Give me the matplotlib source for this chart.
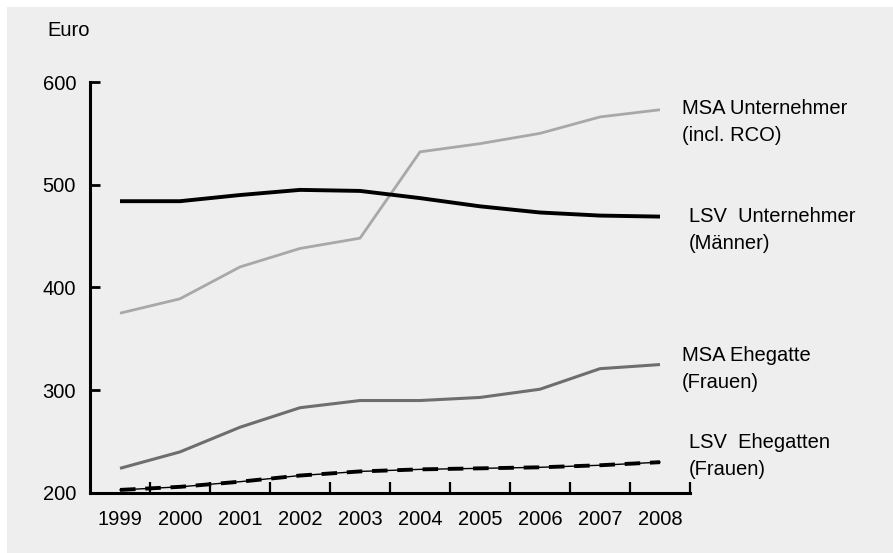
import matplotlib.pyplot as plt
from matplotlib.patches import Rectangle

plt.rcParams['font.family'] = ['Liberation Sans', 'DejaVu Sans']

years = [1999, 2000, 2001, 2002, 2003, 2004, 2005, 2006, 2007, 2008]
msa_unternehmer = [375, 389, 420, 438, 448, 532, 540, 550, 566, 573]
lsv_unternehmer = [484, 484, 490, 495, 494, 487, 479, 473, 470, 469]
msa_ehegatte = [224, 240, 264, 283, 290, 290, 293, 301, 321, 325]
lsv_ehegatten = [203, 206, 211, 217, 221, 223, 224, 225, 227, 230]

bg = '#edeeed'

fig = plt.figure(figsize=(8.93, 5.53), dpi=100)
fig.patch.set_facecolor('white')
fig.add_artist(Rectangle((7 / 893, 0), 1, 546 / 553, transform=fig.transFigure,
                         facecolor=bg, edgecolor='none', zorder=0))

ax = fig.add_axes([90 / 893, 60 / 553, 600 / 893, 411 / 553])
ax.set_facecolor('none')

ax.plot(years, msa_unternehmer, color='#a8a8a8', lw=2.0, solid_capstyle='butt')
ax.plot(years, lsv_unternehmer, color='black', lw=2.8, solid_capstyle='butt')
ax.plot(years, msa_ehegatte, color='#6e6e6e', lw=2.2, solid_capstyle='butt')
ax.plot(years, lsv_ehegatten, color='black', lw=1.0)
ax.plot(years, lsv_ehegatten, color='black', lw=2.8, dashes=(4, 2.5))

ax.set_xlim(1998.5, 2008.5)
ax.set_ylim(200, 600)

for s in ['top', 'right']:
    ax.spines[s].set_visible(False)
for s in ['left', 'bottom']:
    ax.spines[s].set_linewidth(2.2)

ax.set_yticks([200, 300, 400, 500, 600])
ax.tick_params(axis='y', direction='in', length=7, width=2, labelsize=14.5, pad=10)

ax.set_xticks(years)
ax.set_xticks([y + 0.5 for y in years], minor=True)
ax.tick_params(axis='x', which='major', length=0, labelsize=14.5, pad=12)
ax.tick_params(axis='x', which='minor', direction='in', length=8, width=1.6)

fig.text(47 / 893, 1 - 31 / 553, 'Euro', fontsize=14.5, va='center', ha='left')

labels = [
    ('MSA Unternehmer\n(incl. RCO)', 682, 122),
    ('LSV  Unternehmer\n(Männer)', 689, 230),
    ('MSA Ehegatte\n(Frauen)', 682, 369),
    ('LSV  Ehegatten\n(Frauen)', 689, 456),
]
for txt, x, y in labels:
    fig.text(x / 893, 1 - y / 553, txt, fontsize=14.5, va='center', ha='left',
             linespacing=1.55)

fig.savefig('out.png', dpi=100)
